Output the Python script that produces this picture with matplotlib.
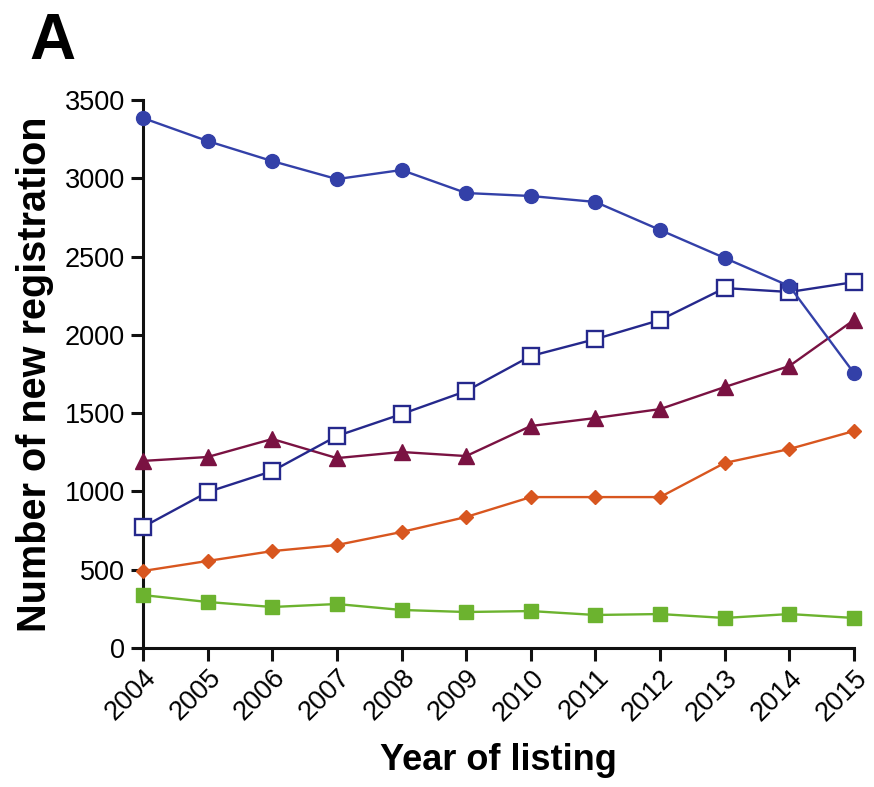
import matplotlib
matplotlib.use("Agg")
import matplotlib.pyplot as plt

years = [2004, 2005, 2006, 2007, 2008, 2009, 2010, 2011, 2012, 2013, 2014, 2015]

circles_blue = [3385, 3238, 3110, 2995, 3053, 2906, 2887, 2849, 2670, 2491, 2312, 1756]
squares_open = [773, 996, 1130, 1354, 1494, 1641, 1865, 1973, 2095, 2299, 2274, 2337]
triangles = [1195, 1220, 1335, 1213, 1252, 1226, 1418, 1469, 1526, 1667, 1801, 2095]
diamonds = [492, 556, 619, 658, 741, 837, 964, 964, 964, 1182, 1271, 1386]
squares_green = [338, 294, 262, 281, 243, 230, 236, 211, 217, 192, 217, 192]

yticks = [0, 500, 1000, 1500, 2000, 2500, 3000, 3500]

plt.rcParams['font.family'] = ['Liberation Sans', 'DejaVu Sans']

fig = plt.figure(figsize=(8.74, 7.87), dpi=100)
ax = fig.add_axes([0.1636, 0.1766, 0.8135, 0.6963])

lw = 1.7
ax.plot(years, circles_blue, '-o', color='#3340a8', lw=lw, ms=10, clip_on=False, zorder=5)
ax.plot(years, squares_open, '-s', color='#25288c', lw=lw, ms=11, mfc='white', mew=1.7, clip_on=False, zorder=4)
ax.plot(years, triangles, '-^', color='#7a1242', lw=lw, ms=12, clip_on=False, zorder=3)
ax.plot(years, diamonds, '-D', color='#d8561f', lw=lw, ms=7, clip_on=False, zorder=3)
ax.plot(years, squares_green, '-s', color='#6cb32f', lw=lw, ms=10, clip_on=False, zorder=3)

ax.set_xlim(2004, 2015)
ax.set_ylim(0, 3500)
ax.set_xticks(years)
ax.set_xticklabels([str(y) for y in years], rotation=45, ha='right', rotation_mode='anchor')
ax.set_yticks(yticks)

for s in ['top', 'right']:
    ax.spines[s].set_visible(False)
for s in ['left', 'bottom']:
    ax.spines[s].set_linewidth(2.2)
    ax.spines[s].set_color('#111111')

ax.tick_params(axis='both', direction='out', length=9, width=2.2, labelsize=19.5, color='#111111')
ax.tick_params(axis='x', pad=3)
ax.tick_params(axis='y', pad=4)

ax.set_ylabel('Number of new registration', fontsize=28.5, fontweight='bold', labelpad=8)
ax.set_xlabel('Year of listing', fontsize=26, fontweight='bold', labelpad=12)

fig.text(0.034, 0.985, 'A', fontsize=46, fontweight='bold', ha='left', va='top')

fig.savefig('out.png', dpi=100)
